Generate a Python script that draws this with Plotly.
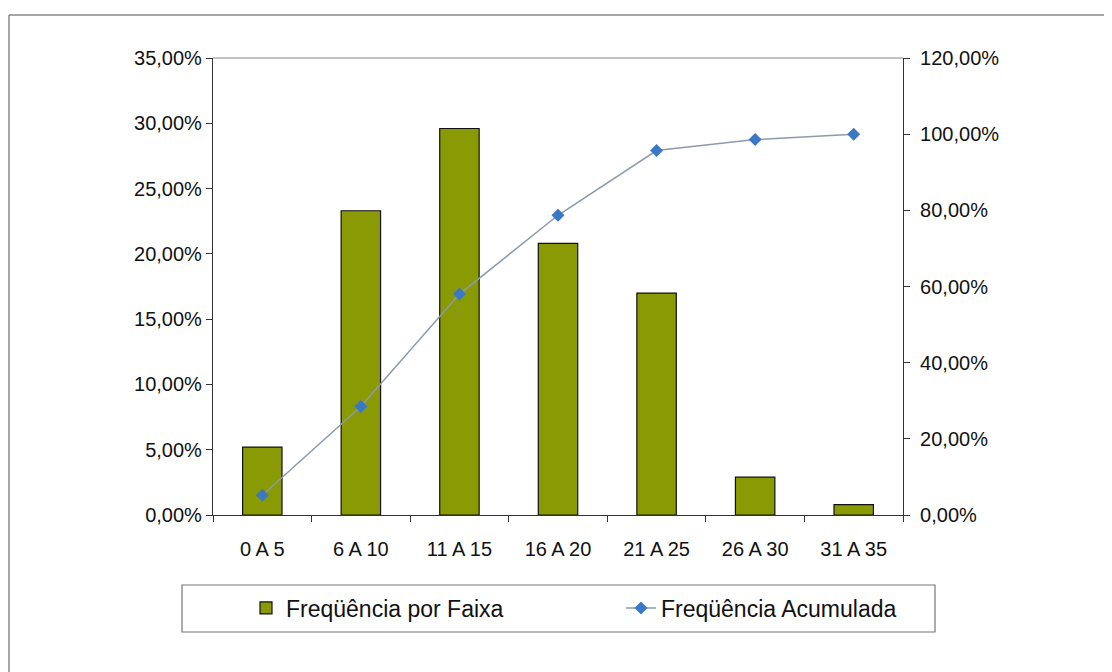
import plotly.graph_objects as go

categories = ["0 A 5", "6 A 10", "11 A 15", "16 A 20", "21 A 25", "26 A 30", "31 A 35"]
freq_faixa = [0.052, 0.233, 0.296, 0.208, 0.170, 0.029, 0.008]
freq_acum = [0.052, 0.285, 0.580, 0.787, 0.957, 0.986, 1.000]
left_ticks = [0, 0.05, 0.10, 0.15, 0.20, 0.25, 0.30, 0.35]
right_ticks = [0, 0.2, 0.4, 0.6, 0.8, 1.0, 1.2]

# page body has an 8px margin: work in figure coordinates = screen - 8
OFF = 8
W, H = 1112, 672
L, R, T, B = 213 - OFF, 903 - OFF, 58 - OFF, 515 - OFF

def px(x):
    return (x - OFF - L) / (R - L)

def py(y):
    return (B - (y - OFF)) / (B - T)

fig = go.Figure()
fig.add_trace(go.Bar(
    x=categories, y=freq_faixa, name="Freqüência por Faixa",
    marker=dict(color="#8a9a05", line=dict(color="#111111", width=1.2)),
    width=0.4, yaxis="y", legend="legend",
))
fig.add_trace(go.Scatter(
    x=categories, y=freq_acum, name="Freqüência Acumulada",
    mode="lines+markers", yaxis="y2", legend="legend2",
    line=dict(color="#8d9aab", width=1.5),
    marker=dict(symbol="diamond", size=10, color="#3a78c6"),
))

fam = "Liberation Sans, Arial, sans-serif"
font = dict(family=fam, size=20, color="#111111")
legfont = dict(family=fam, size=23, color="#111111")

fig.update_layout(
    width=W, height=H,
    margin=dict(l=L, r=W - R, t=T, b=H - B, autoexpand=False),
    paper_bgcolor="white", plot_bgcolor="white",
    separators=", ",
    font=font,
    showlegend=True,
    legend=dict(x=px(246), xanchor="left", y=py(608), yanchor="middle",
                font=legfont, bgcolor="rgba(0,0,0,0)"),
    legend2=dict(x=px(621), xanchor="left", y=py(608), yanchor="middle",
                 font=legfont, bgcolor="rgba(0,0,0,0)"),
    xaxis=dict(showline=True, linecolor="#333333", linewidth=1.2, ticks="outside",
               tickson="boundaries", ticklen=6, tickcolor="#333333", showgrid=False,
               tickfont=font, ticklabelstandoff=16),
    yaxis=dict(range=[0, 0.35], tickvals=left_ticks, tickformat=".2%", showline=True,
               linecolor="#333333", linewidth=1.2, ticks="outside", ticklen=6,
               tickcolor="#333333", showgrid=False, zeroline=False, tickfont=font,
               ticklabelstandoff=0),
    yaxis2=dict(range=[0, 1.2], tickvals=right_ticks, tickformat=".2%", overlaying="y",
                side="right", showline=True, linecolor="#333333", linewidth=1.2,
                ticks="outside", ticklen=6, tickcolor="#333333", showgrid=False,
                zeroline=False, tickfont=font, ticklabelstandoff=6),
    bargap=0.6,
    shapes=[
        dict(type="line", xref="paper", yref="paper", x0=0, x1=1, y0=1, y1=1,
             line=dict(color="#888888", width=1.2)),
        dict(type="rect", xref="paper", yref="paper", x0=px(182), x1=px(935),
             y0=py(632), y1=py(585), line=dict(color="#777777", width=1.2)),
        dict(type="line", xref="paper", yref="paper", x0=px(9), x1=px(9),
             y0=py(15), y1=py(700), line=dict(color="#888888", width=1.5)),
        dict(type="line", xref="paper", yref="paper", x0=px(9), x1=px(1130),
             y0=py(15), y1=py(15), line=dict(color="#888888", width=1.5)),
    ],
)

fig.write_html("out.html")
